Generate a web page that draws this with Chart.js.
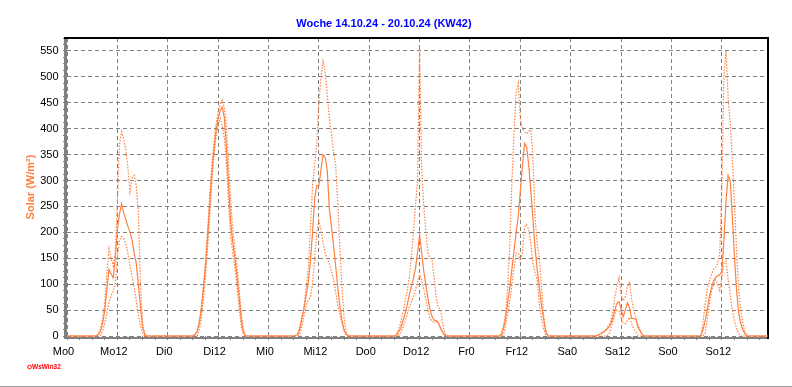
<!DOCTYPE html>
<html>
<head>
<meta charset="utf-8">
<script src="https://cdn.jsdelivr.net/npm/chart.js@4"></script>
<style>
html, body { margin: 0; padding: 0; background: #fff; }
</style>
</head>
<body>
<canvas id="solarChart" width="792" height="387"></canvas>
<script>
// Wochenübersicht Solarstrahlung KW42
var dayNames = ["Mo", "Di", "Mi", "Do", "Fr", "Sa", "So"];
var hours = [6, 6.5, 7, 7.5, 8, 8.5, 9, 9.5, 10, 10.5, 11, 11.5, 12, 12.5, 13, 13.5, 14, 14.5, 15, 15.5, 16, 16.5, 17, 17.5, 18, 18.5, 19];
var xMax = 167;

// Mittelwert (durchgezogen), je Tag ein Array
var solarAvg = [
    [0, 0, 0, 3, 10, 25, 50, 90, 128, 120, 112, 150, 205, 235, 255, 238, 225, 212, 200, 185, 160, 140, 100, 56, 18, 3, 0],
    [0, 3, 8, 25, 50, 92, 135, 190, 255, 314, 359, 395, 420, 435, 442, 420, 360, 290, 220, 180, 150, 115, 75, 32, 8, 0, 0],
    [0, 1, 3, 15, 35, 55, 80, 105, 145, 200, 265, 290, 290, 320, 350, 345, 320, 245, 211, 175, 135, 95, 57, 31, 12, 3, 0],
    [0, 2, 8, 15, 28, 42, 58, 78, 95, 110, 130, 160, 195, 160, 125, 98, 72, 50, 37, 30, 30, 25, 15, 8, 2, 0, 0],
    [0, 0, 0, 3, 15, 35, 65, 95, 130, 165, 200, 230, 280, 328, 372, 365, 330, 280, 225, 170, 130, 96, 62, 35, 10, 0, 0],
    [0, 2, 4, 6, 9, 12, 16, 22, 35, 50, 63, 66, 52, 37, 50, 64, 55, 34, 34, 32, 18, 10, 3, 0, 0, 0, 0],
    [0, 0, 0, 12, 28, 50, 75, 92, 105, 113, 116, 118, 125, 185, 260, 310, 300, 230, 153, 90, 45, 25, 12, 4, 0, 0, 0]
];
// Maximum (gepunktet)
var solarMax = [
    [0, 0, 0, 5, 15, 35, 65, 120, 168, 150, 135, 160, 260, 370, 394, 380, 360, 325, 278, 305, 310, 290, 237, 100, 25, 5, 0],
    [0, 3, 10, 28, 55, 95, 145, 205, 270, 330, 372, 408, 432, 448, 455, 440, 400, 330, 260, 205, 168, 132, 92, 45, 12, 0, 0],
    [0, 2, 5, 20, 38, 60, 95, 130, 211, 290, 330, 370, 450, 500, 530, 510, 465, 420, 390, 355, 330, 260, 172, 95, 35, 8, 0],
    [0, 3, 12, 25, 45, 65, 85, 110, 150, 195, 250, 300, 555, 320, 250, 200, 160, 150, 145, 110, 70, 55, 50, 25, 5, 0, 0],
    [0, 0, 0, 5, 20, 45, 96, 180, 300, 390, 470, 488, 420, 400, 395, 390, 395, 398, 347, 230, 180, 150, 100, 45, 12, 0, 0],
    [0, 2, 4, 6, 8, 14, 20, 28, 45, 75, 95, 112, 80, 68, 75, 95, 105, 72, 50, 35, 22, 12, 4, 0, 0, 0, 0],
    [0, 0, 0, 25, 60, 90, 105, 118, 128, 132, 140, 160, 280, 505, 550, 462, 410, 340, 260, 165, 90, 50, 25, 8, 0, 0, 0]
];
// Minimum (gepunktet)
var solarMin = [
    [0, 0, 0, 0, 2, 10, 25, 45, 65, 78, 88, 100, 150, 185, 192, 188, 178, 160, 135, 115, 95, 68, 40, 20, 5, 0, 0],
    [0, 0, 0, 12, 35, 70, 115, 170, 230, 295, 345, 385, 410, 420, 405, 380, 330, 255, 190, 160, 130, 95, 55, 20, 3, 0, 0],
    [0, 0, 0, 5, 20, 40, 60, 70, 75, 100, 150, 200, 222, 205, 180, 160, 150, 140, 125, 110, 85, 60, 42, 25, 10, 2, 0],
    [0, 0, 2, 6, 15, 28, 40, 55, 65, 75, 88, 105, 118, 108, 90, 70, 50, 33, 28, 26, 27, 25, 15, 6, 0, 0, 0],
    [0, 0, 0, 0, 3, 20, 45, 68, 100, 130, 160, 160, 145, 160, 210, 215, 205, 178, 140, 122, 110, 64, 35, 15, 3, 0, 0],
    [0, 0, 0, 0, 0, 0, 2, 12, 28, 42, 50, 48, 36, 24, 24, 30, 36, 24, 14, 8, 2, 0, 0, 0, 0, 0, 0],
    [0, 0, 0, 0, 5, 30, 60, 85, 100, 108, 100, 88, 110, 140, 145, 110, 80, 50, 31, 15, 5, 0, 0, 0, 0, 0, 0]
];

var orange = "#ff8040";
var gridGray = "#808080";

function toPoints(series) {
    var pts = [{ x: 0, y: 0 }];
    for (var d = 0; d < series.length; d++) {
        for (var i = 0; i < hours.length; i++) {
            pts.push({ x: d * 24 + hours[i], y: series[d][i] });
        }
    }
    pts.push({ x: xMax, y: 0 });
    return pts;
}

// Achsen, Rahmen und Logo wie im WsWin-Bild
var framePlugin = {
    id: "frame",
    beforeDatasetsDraw: function (chart) {
        var c = chart.ctx, a = chart.chartArea;
        c.save();
        c.fillStyle = "#808080";
        c.fillRect(a.left - 3, a.top, 3, a.bottom - a.top + 3);
        c.fillRect(a.left - 3, a.bottom + 1, a.right - a.left + 3, 2);
        c.fillStyle = "#000";
        c.fillRect(a.left - 3, a.top - 1, a.right - a.left + 4, 2);
        c.fillRect(a.right - 1, a.top - 1, 2, a.bottom - a.top + 4);
        c.restore();
    },
    afterDraw: function (chart) {
        var c = chart.ctx;
        c.save();
        c.strokeStyle = "#ff0000";
        c.lineWidth = 1;
        c.beginPath();
        c.arc(29.5, 367, 1.8, 0, Math.PI * 2);
        c.stroke();
        c.fillStyle = "#ff0000";
        c.font = "bold 6.5px 'Liberation Sans', Arial, sans-serif";
        c.textBaseline = "middle";
        c.fillText("WsWin32", 32, 367.5);
        c.fillStyle = "#a0a0a0";
        c.fillRect(0, 386, 792, 1);
        c.restore();
    }
};

Chart.defaults.font.family = "'Liberation Sans', Arial, sans-serif";
Chart.defaults.font.size = 11;
Chart.defaults.color = "#000";

var ctx = document.getElementById("solarChart").getContext("2d");
var myChart = new Chart(ctx, {
    type: "line",
    data: {
        datasets: [
            {
                label: "Solar max",
                data: toPoints(solarMax),
                borderColor: orange,
                borderWidth: 1.2,
                borderDash: [1.5, 1.5],
            },
            {
                label: "Solar min",
                data: toPoints(solarMin),
                borderColor: orange,
                borderWidth: 1.2,
                borderDash: [1.5, 1.5],
            },
            {
                label: "Solar",
                data: toPoints(solarAvg),
                borderColor: orange,
                borderWidth: 1.2,
            },
        ],
    },
    options: {
        responsive: false,
        animation: false,
        layout: { padding: { left: 0, right: 24, top: 0, bottom: 0 } },
        elements: {
            point: { radius: 0 },
            line: { tension: 0 },
        },
        datasets: { line: { clip: false } },
        plugins: {
            legend: { display: false },
            tooltip: { enabled: false },
            title: {
                display: true,
                text: "Woche 14.10.24 - 20.10.24 (KW42)",
                color: "#0000ff",
                font: { size: 11, weight: "bold" },
                padding: { top: 17, bottom: 7.8 },
            },
        },
        scales: {
            x: {
                type: "linear",
                min: 0,
                max: xMax,
                afterFit: function (s) { s.height = 51; },
                border: { display: false, dash: [4, 3] },
                grid: {
                    color: function (c) { return c.tick && c.tick.value % 12 === 0 ? gridGray : "rgba(0,0,0,0)"; },
                    tickColor: gridGray,
                    tickLength: 4,
                },
                ticks: {
                    stepSize: 3,
                    autoSkip: false,
                    includeBounds: false,
                    maxRotation: 0,
                    padding: 5,
                    labelOffset: -3.5,
                    callback: function (v) {
                        return v % 12 === 0 ? dayNames[Math.floor(v / 24)] + (v % 24) : "";
                    },
                },
            },
            y: {
                min: 0,
                max: 575,
                afterFit: function (s) { s.width = 67; },
                border: { display: false, dash: [4, 3] },
                grid: {
                    color: function (c) { return c.tick && c.tick.value % 50 === 0 ? gridGray : "rgba(0,0,0,0)"; },
                    tickColor: gridGray,
                    tickLength: 4,
                },
                ticks: {
                    stepSize: 12.5,
                    maxTicksLimit: 1000,
                    autoSkip: false,
                    padding: 4.5,
                    callback: function (v) { return v % 50 === 0 ? String(v) : ""; },
                },
                title: {
                    display: true,
                    text: "Solar (W/m²)",
                    color: orange,
                    font: { size: 11, weight: "bold" },
                    padding: { top: 24, bottom: 0 },
                },
            },
        },
    },
    plugins: [framePlugin],
});
</script>
</body>
</html>
